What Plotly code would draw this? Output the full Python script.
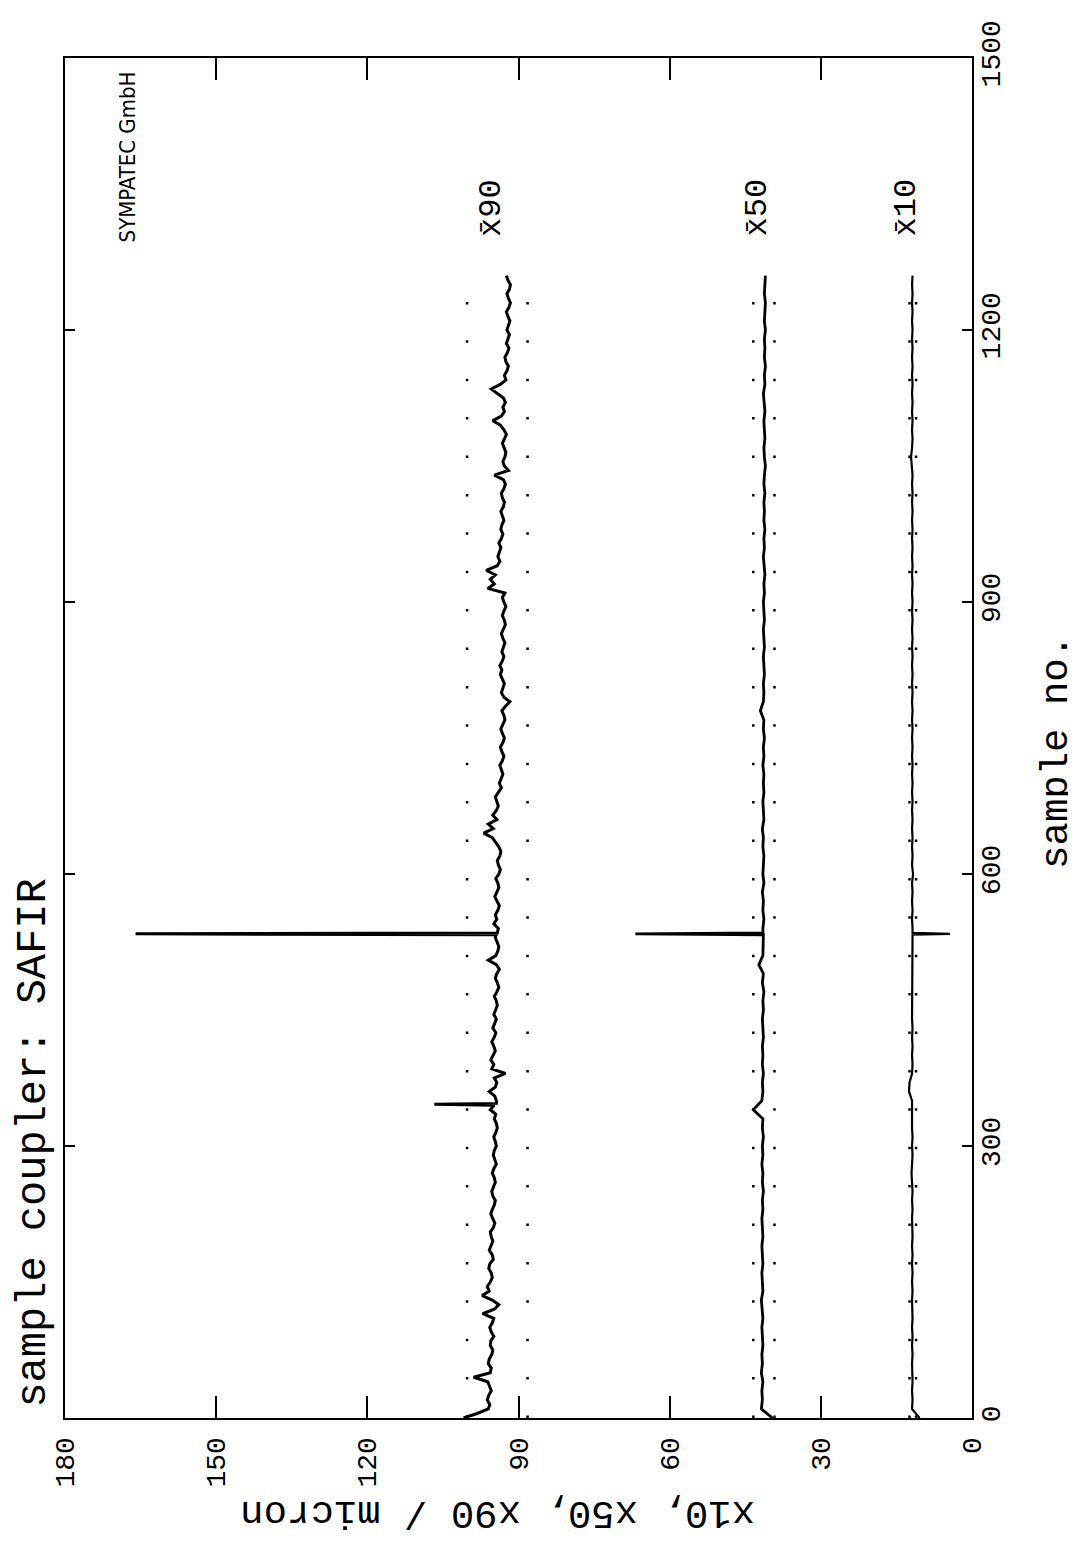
import plotly.graph_objects as go

# ---------------- data ----------------
# x90 read every 5 samples (0 ... 1260)
x90_samples = list(range(0, 1261, 5))
x90_values = [
    100.9, 98.2, 96.0, 95.7, 96.2, 95.9, 95.4, 95.8, 96.1, 98.9,
    95.6, 95.4, 96.0, 95.8, 95.3, 95.1, 95.6, 95.5, 94.9, 95.4,
    95.7, 95.2, 94.9, 97.1, 94.8, 93.9, 95.2, 97.2, 95.8, 96.2,
    95.6, 95.2, 95.4, 95.9, 95.7, 95.0, 95.2, 95.8, 95.5, 95.1,
    95.4, 95.6, 95.0, 94.7, 95.1, 95.5, 95.2, 94.8, 94.6, 95.1,
    95.3, 94.9, 94.6, 94.8, 95.2, 94.9, 94.4, 94.7, 95.0, 94.8,
    94.4, 94.6, 94.9, 94.5, 94.2, 94.4, 94.8, 94.5, 95.6, 94.8,
    94.4, 94.7, 95.8, 94.6, 94.3, 94.8, 92.6, 95.3, 94.9, 95.5,
    95.0, 94.6, 94.9, 95.3, 94.8, 94.5, 95.1, 94.7, 94.4, 94.9,
    94.6, 94.2, 94.4, 94.8, 94.3, 93.9, 94.2, 94.6, 94.3, 93.8,
    94.4, 96.0, 94.5, 94.1, 93.9, 94.3, 94.6, 94.2, 94.0, 94.9,
    94.3, 94.6, 94.1, 93.8, 94.2, 94.7, 94.3, 93.9, 94.1, 94.5,
    93.9, 93.6, 94.0, 94.2, 93.7, 93.5, 93.9, 94.5, 95.2, 96.9,
    95.0, 96.0, 94.3, 95.1, 94.4, 94.0, 94.3, 94.6, 94.0, 93.4,
    93.8, 93.5, 93.1, 93.4, 93.7, 93.2, 92.9, 93.3, 93.6, 93.1,
    92.8, 93.2, 93.5, 93.1, 92.7, 92.9, 93.3, 92.6, 91.7, 92.9,
    93.4, 93.1, 92.8, 93.2, 93.6, 93.3, 93.7, 93.2, 92.9, 93.3,
    93.0, 92.7, 93.1, 93.4, 93.0, 92.6, 92.8, 93.2, 92.9, 92.5,
    92.9, 93.2, 92.7, 96.1, 94.8, 95.6, 94.6, 96.4, 94.2, 93.7,
    94.1, 93.8, 93.5, 93.9, 93.4, 93.1, 93.5, 93.3, 92.9, 93.2,
    93.5, 93.0, 92.8, 93.2, 93.4, 92.9, 92.6, 93.0, 94.8, 92.0,
    92.8, 93.1, 92.7, 92.5, 92.9, 93.2, 92.8, 92.4, 92.9, 93.6,
    95.1, 93.4, 92.8, 93.1, 92.6, 93.0, 94.2, 95.4, 93.6, 92.5,
    92.8, 92.3, 92.0, 92.5, 92.7, 92.2, 91.9, 92.4, 92.1, 91.8,
    92.3, 92.0, 91.7, 92.1, 92.4, 91.9, 91.6, 92.0, 92.3, 91.8,
    91.6, 92.1, 92.4,
]

# x50 and x10 read every 10 samples (0 ... 1260)
x50_x10_samples = list(range(0, 1261, 10))
x50_values = [
    39.6, 41.8, 41.6, 41.7, 41.5, 41.8, 41.6, 41.7, 41.5, 41.6,
    41.7, 41.5, 41.6, 41.8, 41.5, 41.6, 41.7, 41.5, 41.6, 41.7,
    41.5, 41.6, 41.7, 41.5, 41.6, 41.4, 41.6, 41.5, 41.7, 41.5,
    41.6, 41.4, 41.6, 41.5, 43.4, 41.7, 41.5, 41.6, 41.4, 41.6,
    41.5, 41.6, 41.4, 41.5, 41.6, 41.4, 41.5, 41.3, 41.6, 41.4,
    42.3, 41.5, 41.4, 41.4, 41.5, 41.3, 41.5, 41.4, 41.6, 41.3,
    41.5, 41.4, 41.3, 41.5, 41.4, 41.6, 41.3, 41.4, 41.5, 41.3,
    41.4, 41.3, 41.5, 41.3, 41.4, 41.2, 41.4, 41.3, 42.0, 41.4,
    41.3, 41.4, 41.2, 41.3, 41.4, 41.2, 41.3, 41.4, 41.2, 41.3,
    41.4, 41.2, 41.3, 41.1, 41.3, 41.4, 41.2, 41.3, 41.1, 41.3,
    41.2, 41.3, 41.1, 41.3, 41.2, 41.0, 41.2, 41.3, 41.1, 41.2,
    41.3, 41.1, 41.2, 41.4, 41.1, 41.2, 41.0, 41.2, 41.1, 41.2,
    41.0, 41.2, 41.1, 41.0, 41.2, 41.1, 41.0,
]
x10_values = [
    10.4, 11.9, 11.8, 11.9, 11.8, 11.9, 11.9, 11.8, 11.9, 11.8,
    11.9, 11.8, 11.9, 11.9, 11.8, 11.9, 11.8, 11.9, 11.8, 11.9,
    11.8, 11.9, 11.9, 11.8, 11.9, 11.8, 11.9, 12.0, 11.9, 11.8,
    11.9, 11.8, 11.9, 11.9, 11.8, 11.9, 12.5, 12.4, 11.9, 11.8,
    11.9, 11.8, 11.9, 11.8, 11.9, 11.9, 11.8, 11.9, 11.8, 11.9,
    11.8, 11.9, 11.8, 11.8, 11.8, 11.9, 11.8, 11.9, 11.8, 11.9,
    11.7, 11.9, 11.8, 11.9, 11.8, 11.9, 11.8, 11.9, 11.8, 11.9,
    11.8, 11.9, 11.8, 11.9, 11.8, 11.9, 11.8, 11.9, 11.8, 11.9,
    11.8, 11.9, 11.8, 11.9, 11.8, 11.9, 11.8, 11.9, 11.8, 11.9,
    11.8, 11.9, 11.8, 11.9, 11.8, 11.9, 11.8, 11.9, 11.8, 11.9,
    11.8, 11.9, 11.8, 11.9, 11.8, 11.9, 12.1, 11.9, 11.8, 11.9,
    11.8, 11.9, 11.8, 11.9, 11.8, 11.9, 11.8, 11.9, 11.8, 11.9,
    11.8, 11.9, 11.8, 11.9, 11.8, 11.9, 11.8,
]

# single-sample spikes (sample no., value)
x90_spikes = [(346, 106.7), (534, 166.0)]
x50_spikes = [(534, 66.8)]
x10_spikes = [(534, 4.4)]

# tolerance band limits (dotted lines)
x90_limits = [100.2, 88.2]
x50_limits = [43.4, 39.2]
x10_limits = [12.4, 11.1]

series_labels = ["x\u030490", "x\u030450", "x\u030410"]
label_sample = 1335

micron_ticks = [0, 30, 60, 90, 120, 150, 180]
sample_ticks = [0, 300, 600, 900, 1200, 1500]

# ---------------- layout constants ----------------
W, H = 1076, 1550
ML, MR, MT, MB = 57, 112, 42, 140
PW, PH = W - ML - MR, H - MT - MB
FONT = "Liberation Mono, DejaVu Sans Mono, monospace"


def paper_x(px):
    return (px - ML) / PW


def paper_y(py):
    return (H - MB - py) / PH


def with_spikes(samples, values, spikes):
    """Insert one-sample spikes into a series (flanks use the neighbouring readings)."""
    pts = list(zip(samples, values))
    for s, peak in spikes:
        before = [p for p in pts if p[0] < s][-1]
        after = [p for p in pts if p[0] > s][0]
        pts += [(s - 1, before[1]), (s, peak), (s + 1, after[1])]
    pts.sort(key=lambda p: p[0])
    return [p[1] for p in pts], [p[0] for p in pts]


fig = go.Figure()

# dotted band lines
sample_end = x90_samples[-1]
for limits in (x90_limits, x50_limits, x10_limits):
    for lim in limits:
        fig.add_trace(go.Scatter(
            x=[lim, lim], y=[0, sample_end], mode="lines",
            line=dict(color="black", width=2.5, dash="2.5px,35.9px"),
            hoverinfo="skip", showlegend=False))

# the three traces
for samples, values, spikes, width in (
        (x90_samples, x90_values, x90_spikes, 3.0),
        (x50_x10_samples, x50_values, x50_spikes, 2.8),
        (x50_x10_samples, x10_values, x10_spikes, 2.2)):
    xs, ys = with_spikes(samples, values, spikes)
    fig.add_trace(go.Scatter(x=xs, y=ys, mode="lines",
                             line=dict(color="black", width=width),
                             showlegend=False))

annotations = []
for lab, limits in zip(series_labels, (x90_limits, x50_limits, x10_limits)):
    annotations.append(dict(
        x=(limits[0] + limits[1]) / 2, y=label_sample, xref="x", yref="y",
        text=lab, showarrow=False, textangle=-90, xshift=-6,
        font=dict(family=FONT, size=32, color="black"),
        xanchor="center", yanchor="middle"))

annotations += [
    dict(x=paper_x(26), y=paper_y(1134), xref="paper", yref="paper",
         text="sample coupler: SAFIR", showarrow=False, textangle=-90,
         font=dict(family=FONT, size=42, color="black"),
         xanchor="center", yanchor="middle"),
    dict(x=paper_x(119), y=paper_y(142), xref="paper", yref="paper",
         text="SYMPATEC GmbH", showarrow=False, textangle=-90,
         font=dict(family="Liberation Sans Narrow, DejaVu Sans Condensed, Roboto Condensed, sans-serif",
                   size=22, color="black"),
         xanchor="center", yanchor="middle"),
    dict(x=paper_x(1049), y=paper_y(740), xref="paper", yref="paper",
         text="sample no.", showarrow=False, textangle=-90,
         font=dict(family=FONT, size=39, color="black"),
         xanchor="center", yanchor="middle"),
    dict(x=paper_x(490), y=paper_y(1504), xref="paper", yref="paper",
         text="x10, x50, x90 / micron", showarrow=False, textangle=180,
         font=dict(family=FONT, size=39, color="black"),
         xanchor="center", yanchor="middle"),
]

fig.update_layout(
    width=W, height=H,
    margin=dict(l=ML, r=MR, t=MT, b=MB, pad=0),
    paper_bgcolor="white", plot_bgcolor="white",
    showlegend=False,
    annotations=annotations,
    xaxis=dict(
        range=[180, 0], tickvals=micron_ticks, ticktext=[str(t) for t in micron_ticks],
        ticks="inside", ticklen=22, tickwidth=2, tickcolor="black",
        showline=True, linewidth=2, linecolor="black", mirror="ticks",
        showgrid=False, zeroline=False, tickangle=-90,
        tickfont=dict(family=FONT, size=28, color="black"),
        ticklabelstandoff=6,
    ),
    yaxis=dict(
        side="right", range=[0, 1500], tickvals=sample_ticks,
        ticktext=[str(t) for t in sample_ticks],
        ticks="inside", ticklen=10, tickwidth=2, tickcolor="black",
        showline=True, linewidth=2, linecolor="black", mirror="ticks",
        showgrid=False, zeroline=False, tickangle=-90,
        tickfont=dict(family=FONT, size=28, color="black"),
        ticklabelstandoff=-8,
    ),
)

fig.write_html("out.html")
